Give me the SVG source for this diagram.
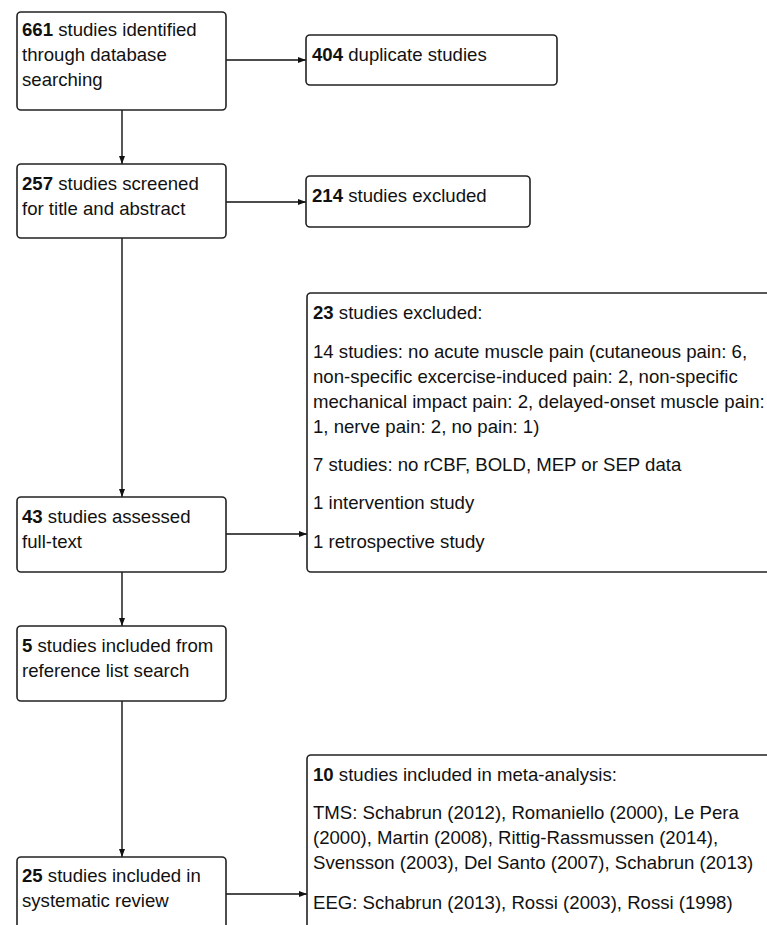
<svg xmlns="http://www.w3.org/2000/svg" width="767" height="925" viewBox="0 0 767 925">
<defs>
<style>
.box{fill:#fff;stroke:#222;stroke-width:1.6}
.t{font-family:"Liberation Sans",Arial,sans-serif;font-size:18.6px;fill:#111}
.b{font-weight:bold}
.c{stroke:#111;stroke-width:1.4;fill:none}
</style>
<marker id="ah" markerWidth="8" markerHeight="6" refX="8" refY="3" orient="auto" markerUnits="userSpaceOnUse">
<path d="M0,0 L8,3 L0,6 Z" fill="#111"/>
</marker>
</defs>
<rect width="767" height="925" fill="#fff"/>
<g id="connectors">
<line class="c" x1="226" y1="60" x2="306" y2="60" marker-end="url(#ah)"/>
<line class="c" x1="122" y1="110" x2="122" y2="164" marker-end="url(#ah)"/>
<line class="c" x1="226" y1="202" x2="306" y2="202" marker-end="url(#ah)"/>
<line class="c" x1="122" y1="238" x2="122" y2="497" marker-end="url(#ah)"/>
<line class="c" x1="226" y1="534" x2="307" y2="534" marker-end="url(#ah)"/>
<line class="c" x1="122" y1="572" x2="122" y2="626" marker-end="url(#ah)"/>
<line class="c" x1="122" y1="701" x2="122" y2="857" marker-end="url(#ah)"/>
<line class="c" x1="226" y1="894" x2="307" y2="894" marker-end="url(#ah)"/>
</g>
<g id="n661">
<rect class="box" x="17" y="12" width="209" height="98" rx="4"/>
<text class="t" x="22" y="36"><tspan class="b">661</tspan> studies identified</text>
<text class="t" x="22" y="61">through database</text>
<text class="t" x="22" y="86">searching</text>
</g>
<g id="n404">
<rect class="box" x="306" y="35" width="251" height="50" rx="4"/>
<text class="t" x="312" y="61"><tspan class="b">404</tspan> duplicate studies</text>
</g>
<g id="n257">
<rect class="box" x="17" y="164" width="209" height="74" rx="4"/>
<text class="t" x="22" y="190"><tspan class="b">257</tspan> studies screened</text>
<text class="t" x="22" y="215">for title and abstract</text>
</g>
<g id="n214">
<rect class="box" x="306" y="176" width="224" height="51" rx="4"/>
<text class="t" x="312" y="202"><tspan class="b">214</tspan> studies excluded</text>
</g>
<g id="n23">
<rect class="box" x="307" y="293" width="480" height="279" rx="4"/>
<text class="t" x="313" y="319"><tspan class="b">23</tspan> studies excluded:</text>
<text class="t" x="313" y="358">14 studies: no acute muscle pain (cutaneous pain: 6,</text>
<text class="t" x="313" y="383">non-specific excercise-induced pain: 2, non-specific</text>
<text class="t" x="313" y="408">mechanical impact pain: 2, delayed-onset muscle pain:</text>
<text class="t" x="313" y="433">1, nerve pain: 2, no pain: 1)</text>
<text class="t" x="313" y="471">7 studies: no rCBF, BOLD, MEP or SEP data</text>
<text class="t" x="313" y="509">1 intervention study</text>
<text class="t" x="313" y="548">1 retrospective study</text>
</g>
<g id="n43">
<rect class="box" x="17" y="497" width="209" height="75" rx="4"/>
<text class="t" x="22" y="523"><tspan class="b">43</tspan> studies assessed</text>
<text class="t" x="22" y="548">full-text</text>
</g>
<g id="n5">
<rect class="box" x="17" y="626" width="209" height="75" rx="4"/>
<text class="t" x="22" y="652"><tspan class="b">5</tspan> studies included from</text>
<text class="t" x="22" y="677">reference list search</text>
</g>
<g id="n25">
<rect class="box" x="17" y="857" width="209" height="100" rx="4"/>
<text class="t" x="22" y="882"><tspan class="b">25</tspan> studies included in</text>
<text class="t" x="22" y="907">systematic review</text>
</g>
<g id="n10">
<rect class="box" x="307" y="755" width="480" height="200" rx="4"/>
<text class="t" x="313" y="781"><tspan class="b">10</tspan> studies included in meta-analysis:</text>
<text class="t" x="313" y="819">TMS: Schabrun (2012), Romaniello (2000), Le Pera</text>
<text class="t" x="313" y="844">(2000), Martin (2008), Rittig-Rassmussen (2014),</text>
<text class="t" x="313" y="869">Svensson (2003), Del Santo (2007), Schabrun (2013)</text>
<text class="t" x="313" y="909">EEG: Schabrun (2013), Rossi (2003), Rossi (1998)</text>
</g>
</svg>
